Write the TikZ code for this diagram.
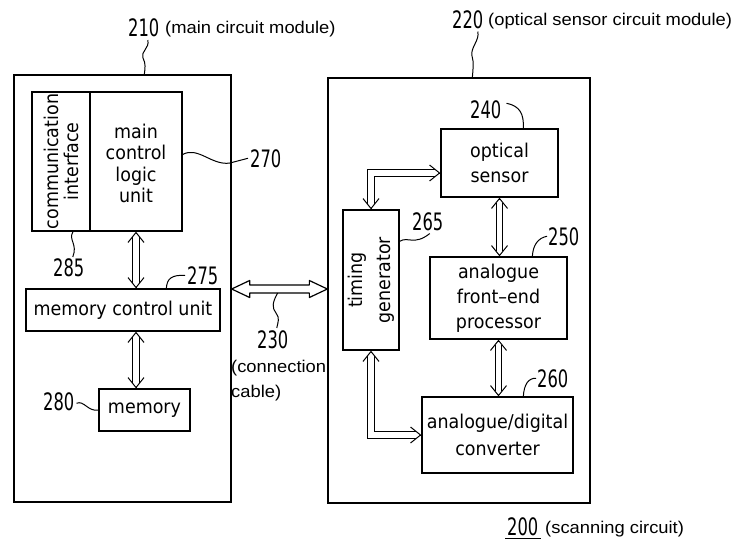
\documentclass[tikz,border=0pt]{standalone}
\usepackage{fontspec}
\usetikzlibrary{arrows.meta,calc}
\newfontfamily\boxfont[FakeStretch=0.92]{DejaVu Sans}
\newfontfamily\numfont[FakeStretch=0.68]{DejaVu Sans}
\newfontfamily\lblfont[FakeStretch=1.08]{Liberation Sans}
\newcommand\dhead[2]{\draw[headtip] (#1) -- ($(#1)!1pt!(#2)$);}
\begin{document}
\begin{tikzpicture}[x=1pt,y=-1pt,
  box/.style={draw, line width=1.3pt, inner sep=0pt, align=center,
    font=\boxfont\fontsize{19}{25}\selectfont},
  num/.style={inner sep=0pt, font=\numfont\fontsize{24}{24}\selectfont},
  lbl/.style={inner sep=0pt, font=\lblfont\fontsize{17}{20}\selectfont},
  leader/.style={line width=1pt},
  dblline/.style={double, double distance=5.5pt, line width=1pt, shorten <=5pt, shorten >=5pt},
  headtip/.style={line width=1pt, {Straight Barb[length=10pt,width=16pt]}-},
]
\useasboundingbox (0,0) rectangle (739,541);

% modules
\node[box, minimum width=217pt, minimum height=427pt] (Lmod) at (122.5,288.5) {};
\node[box, minimum width=262pt, minimum height=425pt] (Rmod) at (459,290.5) {};

% left module blocks
\node[box, minimum width=58pt, minimum height=139pt] (comm) at (61,161.5) {};
\node[box, rotate=90, font=\boxfont\fontsize{19}{20}\selectfont] at (comm.center) [draw=none] {communication\\interface};
\node[box, minimum width=92pt, minimum height=139pt] (main) at (136,161.5) {};
\node[box, draw=none, font=\boxfont\fontsize{19}{21.5}\selectfont] at ($(main.center)+(0,2)$) {main\\control\\logic\\unit};
\node[box, minimum width=194pt, minimum height=42pt] (mcu) at (123,310) {memory control unit};
\node[box, minimum width=91pt, minimum height=42pt] (mem) at (144.5,410) {memory};

% right module blocks
\node[box, minimum width=117pt, minimum height=68pt] (os) at (499.5,163) {optical\\sensor};
\node[box, minimum width=56pt, minimum height=140pt] (tg) at (371,280) {};
\node[box, rotate=90, draw=none, font=\boxfont\fontsize{19}{28}\selectfont] at (tg.center) {timing\\generator};
\node[box, minimum width=137pt, minimum height=82pt] (afe) at (498.5,298) {analogue\\front–end\\processor};
\node[box, minimum width=151pt, minimum height=76pt, font=\boxfont\fontsize{19}{27}\selectfont] (adc) at (497.5,435) {analogue/digital\\converter};

% double arrows
\coordinate (a1) at (main.south);
\coordinate (a2) at (main.south |- mcu.north);
\coordinate (a3) at (main.south |- mcu.south);
\coordinate (a4) at (main.south |- mem.north);
\coordinate (b1) at (os.south);
\coordinate (b2) at (os.south |- afe.north);
\coordinate (b3) at (afe.south);
\coordinate (b4) at (afe.south |- adc.north);
\coordinate (osin) at ($(os.west)+(0,10)$);
\coordinate (c1) at (tg.north |- osin);
\coordinate (c2) at (tg.south |- adc.west);
\draw[dblline] (a1) -- (a2);
\dhead{a1}{a2} \dhead{a2}{a1}
\draw[dblline] (a3) -- (a4);
\dhead{a3}{a4} \dhead{a4}{a3}
\draw[dblline] (b1) -- (b2);
\dhead{b1}{b2} \dhead{b2}{b1}
\draw[dblline] (b3) -- (b4);
\dhead{b3}{b4} \dhead{b4}{b3}
\draw[dblline] (tg.north) -- (c1) -- (osin);
\dhead{tg.north}{c1} \dhead{osin}{c1}
\draw[dblline] (tg.south) -- (c2) -- (adc.west);
\dhead{tg.south}{c2} \dhead{adc.west}{c2}

% connection cable
\coordinate (yc) at (0,289);
\coordinate (cabL) at (Lmod.east |- yc);
\coordinate (cabR) at (Rmod.west |- yc);
\draw[line width=1.2pt, line join=round] (cabL) -- ++(18,-8.5) -- ++(0,4.5) -- ($(cabR)+(-18,-4)$) -- ++(0,-4.5) -- (cabR)
  -- ++(-18,8.5) -- ++(0,-4.5) -- ($(cabL)+(18,4)$) -- ++(0,4.5) -- cycle;

% labels
\node[num, anchor=base west] (n210) at (128,36.5) {210};
\node[lbl, anchor=base west] (t210) at (165,33) {(main circuit module)};
\node[num, anchor=base west] (n220) at (452,28) {220};
\node[lbl, anchor=base west] (t220) at (488,25) {(optical sensor circuit module)};
\node[num, anchor=base west] (n270) at (250,167) {270};
\node[num, anchor=base west] (n285) at (53,276) {285};
\node[num, anchor=base west] (n275) at (187,284) {275};
\node[num, anchor=base west] (n280) at (43,410) {280};
\node[num, anchor=base west] (n230) at (257,348) {230};
\node[lbl, anchor=base west] (t230a) at (231,372) {(connection};
\node[lbl, anchor=base west] (t230b) at (231,397) {cable)};
\node[num, anchor=base west] (n240) at (470,118) {240};
\node[num, anchor=base west] (n265) at (412,230) {265};
\node[num, anchor=base west] (n250) at (548,245) {250};
\node[num, anchor=base west] (n260) at (537,387) {260};
\node[num, anchor=base west] (n200) at (507,535) {200};
\node[lbl, anchor=base west] (t200) at (545,533) {(scanning circuit)};
\draw[line width=1pt] ($(n200.south west)+(-2,3)$) -- ($(n200.south east)+(2,3)$);

% leaders
\draw[leader] ($(n210.south)+(4,3)$) .. controls (150,48) and (140,52) .. (143,58) .. controls (146,64) and (145,68) .. ($(Lmod.north west)+(131,0)$);
\draw[leader] ($(n220.south)+(10,3)$) .. controls (480,40) and (470,48) .. (472,56) .. controls (474,62) and (473,70) .. ($(Rmod.north west)+(145,0)$);
\draw[leader] ($(main.east)+(0,-7)$) .. controls (198,146) and (212,166) .. (230,163) -- ($(n270.west)+(-2,0)$);
\draw[leader] ($(comm.south)+(12,0)$) .. controls (68,240) and (78,244) .. ($(n285.north)+(4,-1)$);
\draw[leader] ($(mcu.north west)+(141,0)$) .. controls (167,278) and (172,275) .. ($(n275.west)+(-2,0)$);
\draw[leader] ($(n280.east)+(2,2)$) .. controls (84,400) and (88,412) .. (mem.west);
\draw[leader] ($(cabL)+(46,4)$) .. controls (272,303) and (272,308) .. (276,313) .. controls (280,318) and (278,322) .. ($(n230.north)+(4,-2)$);
\draw[leader] ($(n240.east)+(5,-6)$) .. controls (520,106) and (524,114) .. ($(os.north west)+(83,0)$);
\draw[leader] ($(tg.north east)+(0,32)$) .. controls (408,236) and (414,246) .. ($(n265.south)+(2,3)$);
\draw[leader] ($(afe.north west)+(103,0)$) .. controls (533,245) and (538,238) .. ($(n250.west)+(-1,0)$);
\draw[leader] ($(adc.north west)+(102,0)$) .. controls (524,385) and (528,378) .. ($(n260.west)+(-1,0)$);
\end{tikzpicture}
\end{document}
